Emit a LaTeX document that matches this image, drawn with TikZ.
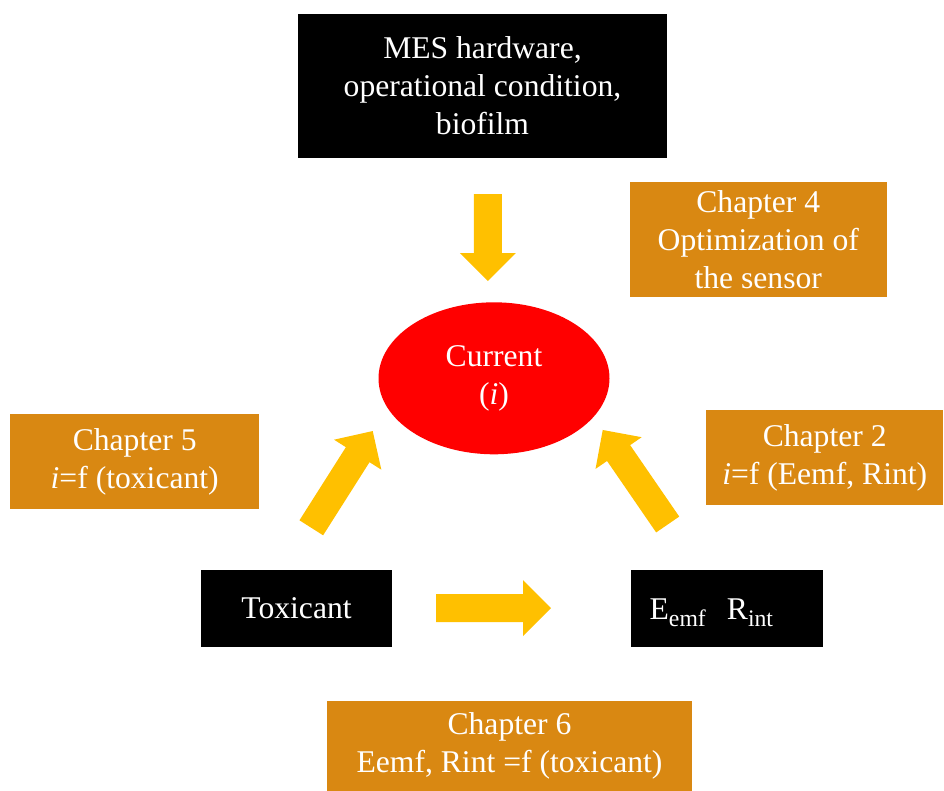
\documentclass[tikz,border=0pt]{standalone}
\usepackage{fontspec}
\setmainfont{Liberation Serif}
\usepackage{xcolor}
\usetikzlibrary{shapes.geometric}
\usetikzlibrary{positioning}
\definecolor{chapterorange}{HTML}{D98812}
\definecolor{arrowyellow}{HTML}{FFC000}
\newcommand{\px}{0.02cm}
\newcommand{\lowsub}[1]{\raisebox{-4pt}{\fontsize{13.5}{14}\selectfont #1}}
\tikzset{
	pics/fatarrow/.style={code={
		\fill[arrowyellow] (0,-14) -- (#1-28,-14) -- (#1-28,-28) -- (#1,0) -- (#1-28,28) -- (#1-28,14) -- (0,14) -- cycle;
	}}
}

\begin{document}
\begin{tikzpicture}[x=\px, y=-\px, text=white, font=\fontsize{18}{21.6}\selectfont]
    \tikzstyle{blackbox}=[fill=black,rectangle,inner sep=0pt,align=center]
    \tikzstyle{chapter}=[fill=chapterorange,rectangle,inner sep=0pt,align=center]
    \tikzstyle{bubble}=[fill=red,ellipse,inner sep=0pt,align=center]

    \useasboundingbox (0,0) rectangle (944,791);

	\node[blackbox, minimum width=368.4*\px, minimum height=143.4*\px] (hw) at (482.5,86) {MES hardware,\\operational condition,\\biofilm};
	\node[chapter, minimum width=256.7*\px, minimum height=115*\px] (ch4) at (758.3,239.8) {Chapter 4\\Optimization of\\the sensor};
	\node[bubble, minimum width=231*\px, minimum height=152*\px] (cur) at (494,378.3) {Current\\(\textit{i})};

	\node[chapter, minimum width=249.3*\px, minimum height=95.3*\px] (ch5) at (134.7,461.7) {Chapter 5\\\textit{i}=f (toxicant)};
	\node[chapter, minimum width=237.3*\px, minimum height=95.3*\px] (ch2) at (824.7,457.7) {Chapter 2\\ \textit{i}=f (Eemf, Rint)};

	\node[blackbox, minimum width=191*\px, minimum height=76.7*\px] (tox) at (296.5,608.3) {Toxicant};
	\node[blackbox, minimum width=192.7*\px, minimum height=76.7*\px, right=238*\px of tox] (emf) {};
	\node[anchor=base west, inner sep=0pt] (emftext) at (649.3,619.3) {E\lowsub{emf}\ \ \,R\lowsub{int}};

	\node[chapter, minimum width=365.6*\px, minimum height=90*\px] (ch6) at (509.5,746) {Chapter 6\\Eemf, Rint =f (toxicant)};

	% block arrows
	\pic[rotate=-90] at (487.9,194) {fatarrow=87};
	\pic at (436,608.2) {fatarrow=115};
	\pic[rotate=57.6] at (311.3,527.8) {fatarrow=114.6};
	\pic[rotate=124.5] at (667.7,524.5) {fatarrow=114.7};
\end{tikzpicture}
\end{document}
